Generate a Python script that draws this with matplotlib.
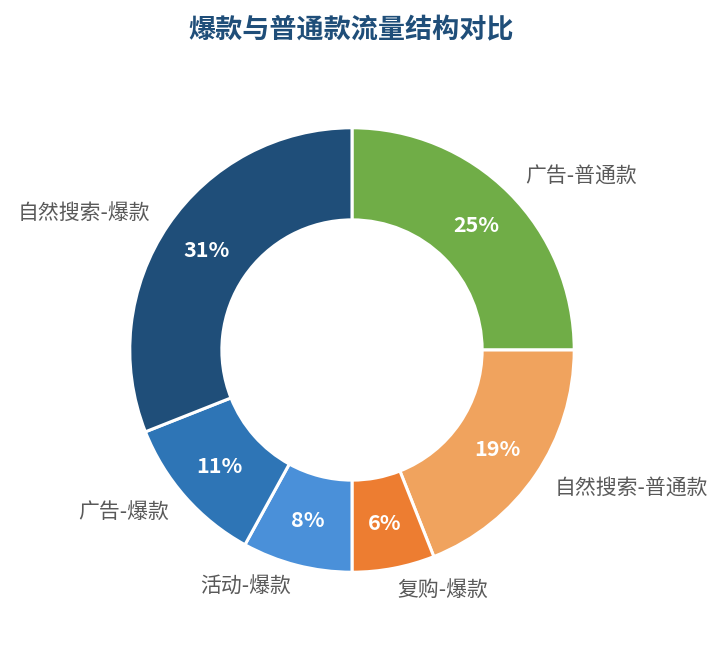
import numpy as np
import matplotlib
matplotlib.use("Agg")
import matplotlib.pyplot as plt

plt.rcParams['font.family'] = ['Noto Sans CJK SC', 'DejaVu Sans']

# data
labels = ['广告-普通款', '自然搜索-普通款', '复购-爆款', '活动-爆款', '广告-爆款', '自然搜索-爆款']
shares = [25, 19, 6, 8, 11, 31]
colors = ['#70AD47', '#F0A35E', '#ED7D31', '#4A90D9', '#2E75B6', '#1F4E79']

fig = plt.figure(figsize=(7.24, 6.45), dpi=100)
ax = fig.add_axes([102 / 724, 45 / 645, 500 / 724, 500 / 645])

inner = 130 / 222
wedges, _ = ax.pie(shares, colors=colors, startangle=90, counterclock=False,
                   radius=1.0, wedgeprops=dict(width=1 - inner, edgecolor='white', linewidth=2.2))
ax.set_xlim(-1.125, 1.125)
ax.set_ylim(-1.125, 1.125)
ax.set_aspect('equal')
ax.axis('off')

mid_r = (1 + inner) / 2
for w, lab, val in zip(wedges, labels, shares):
    ang = np.deg2rad((w.theta1 + w.theta2) / 2)
    x, y = np.cos(ang), np.sin(ang)
    ax.text(mid_r * x, mid_r * y, f'{val}%', ha='center', va='center',
            color='white', fontsize=15.5, fontweight='bold')
    ha = 'left' if x >= 0 else 'right'
    ax.text(1.1 * x, 1.1 * y, lab, ha=ha, va='center', color='#595959', fontsize=15)

fig.text(351 / 724, 1 - 30 / 645, '爆款与普通款流量结构对比', ha='center', va='center',
         fontsize=19.5, fontweight='bold', color='#1F4E79')

fig.savefig('out.png', dpi=100)
